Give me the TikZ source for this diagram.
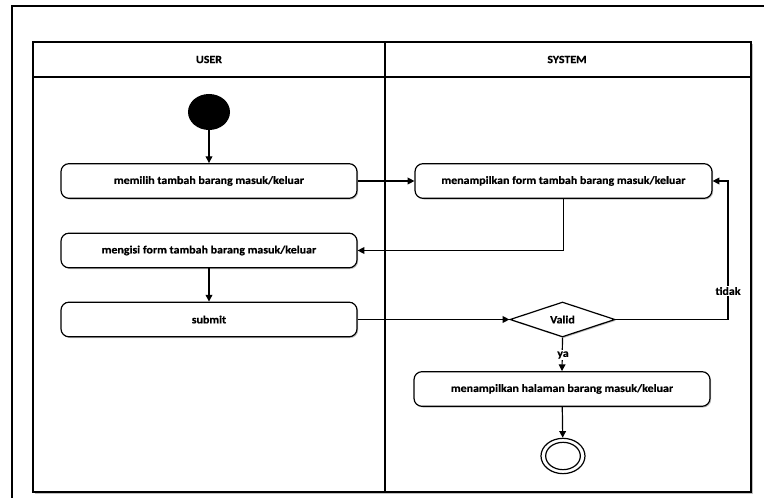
\documentclass[tikz,border=0pt]{standalone}
\usepackage{fontspec}
\setmainfont{Carlito}[FakeStretch=1.08,FakeBold=0.6]
\usetikzlibrary{arrows.meta,shapes.geometric,shadows}
\begin{document}
\begin{tikzpicture}[x=0.75pt,y=-0.75pt,
  font=\bfseries\fontsize{8.3}{10}\selectfont,
  shd/.style={drop shadow={shadow xshift=0.9pt,shadow yshift=-0.9pt,opacity=0.25,fill=black}},
  act/.style={draw,line width=0.9pt,rounded corners=6pt,minimum width=222pt,minimum height=26pt,fill=white,shd,inner sep=0pt},
  dec/.style={draw,line width=0.9pt,diamond,aspect=3,minimum width=78.75pt,minimum height=26.25pt,inner sep=0pt,fill=white,shd},
  arr/.style={line width=0.9pt,-{Triangle[length=5pt,width=5pt]}},
  lbl/.style={fill=white,inner sep=1pt}]
\useasboundingbox (0,0) rectangle (764,498);
% outer frame (cut by page)
\draw[line width=1.6pt] (12,510) -- (12,6) -- (780,6);
% swimlanes
\fill[black!25] (35,44) rectangle (753,494);
\draw[line width=1.3pt,fill=white] (33,42) rectangle (751,492);
\draw[line width=1.1pt] (33,77) -- (751,77);
\draw[line width=1.3pt] (385,42) -- (385,492);
\node (huser) at (209,59.5) {USER};
\node (hsys) at (567,59.5) {SYSTEM};
% nodes
\node[ellipse,fill=black,minimum width=31.5pt,minimum height=27pt,inner sep=0pt] (start) at (209,112) {};
\node[act] (a1) at (209,181) {memilih tambah barang masuk/keluar};
\node[act] (a2) at (209,250.5) {mengisi form tambah barang masuk/keluar};
\node[act] (a3) at (209,319.5) {submit};
\node[act,minimum width=222.75pt] (s1) at (563.5,181) {menampilkan form tambah barang masuk/keluar};
\node[dec] (valid) at (562.5,319.5) {Valid};
\node[act] (s2) at (562,389) {menampilkan halaman barang masuk/keluar};
\node[ellipse,draw,line width=0.9pt,minimum width=33pt,minimum height=26.5pt,inner sep=0pt,fill=white] (end) at (563,456) {};
\node[ellipse,draw,line width=0.9pt,minimum width=26pt,minimum height=20.5pt,inner sep=0pt] (endin) at (563,456) {};
\coordinate (tk) at (728,319.5);
% connectors
\draw[arr] (start) -- (a1);
\draw[arr] (a1) -- (s1);
\draw[arr] (s1.south) |- (a2.east);
\draw[arr] (a2) -- (a3);
\draw[arr] (a3) -- (valid);
\draw[arr] (valid.east) -- (tk) |- (s1.east);
\node[lbl] (ltidak) at (728,291) {tidak};
\draw[arr] (valid.south) -- (s2.north);
\node[lbl] (lya) at (563,355) {ya};
\draw[arr] (s2) -- (end);
\end{tikzpicture}
\end{document}
